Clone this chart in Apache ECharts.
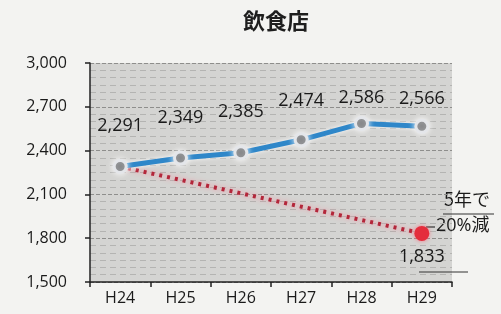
<!DOCTYPE html>
<html>
<head>
<meta charset="utf-8">
<script src="https://cdn.jsdelivr.net/npm/echarts@6/dist/echarts.min.js"></script>
<style>
  html, body { margin: 0; padding: 0; background: #f3f3f1; }
  #chart { width: 501px; height: 314px; }
</style>
</head>
<body>
<div id="chart"></div>
<script>
// data
const years = ['H24', 'H25', 'H26', 'H27', 'H28', 'H29'];
const shops = [2291, 2349, 2385, 2474, 2586, 2566];
const target = [2291, null, null, null, null, 1833]; // 5年で20%減
const yTicks = [1500, 1800, 2100, 2400, 2700, 3000];

const fmt = v => Number(v).toLocaleString('en-US');
const font = '"Open Sans", "Noto Sans CJK JP", sans-serif';
const jp = '"Noto Sans CJK JP", sans-serif';

const myChart = echarts.init(document.getElementById('chart'));

// labels sit well above the line, the last two are squeezed under the top
const labelGap = [24, 24, 24, 22, 9, 11];
const shopData = shops.map((v, i) => ({ value: v, label: { distance: labelGap[i] } }));

let option = {
    backgroundColor: '#f3f3f1',
    title: {
        text: '飲食店',
        left: 238,
        top: 5,
        textStyle: { fontSize: 22, fontWeight: 'bold', color: '#1e1e1e', fontFamily: jp }
    },
    grid: {
        left: 90, right: 49, top: 63, bottom: 32,
        show: true,
        backgroundColor: '#d4d4d2',
        borderWidth: 0
    },
    xAxis: {
        type: 'category',
        data: years,
        boundaryGap: true,
        axisLine: { lineStyle: { color: '#222', width: 1.5 } },
        axisTick: { show: true, length: 5, lineStyle: { color: '#222', width: 1.5 } },
        axisLabel: { color: '#1a1a1a', fontSize: 16, fontFamily: font, margin: 8 }
    },
    yAxis: {
        type: 'value',
        min: yTicks[0],
        max: yTicks[yTicks.length - 1],
        interval: 300,
        axisLine: { show: true, lineStyle: { color: '#222', width: 1.5 } },
        axisTick: { show: true, length: 5, lineStyle: { color: '#222', width: 1.5 } },
        axisLabel: { color: '#1a1a1a', fontSize: 16, fontFamily: font, margin: 23, formatter: fmt },
        splitLine: { show: true, lineStyle: { color: '#8e8e8c', type: 'dashed', width: 1 } },
        minorTick: { show: false, splitNumber: 6 },
        minorSplitLine: { show: true, lineStyle: { color: '#b4b4b2', type: [6, 4], width: 1 } }
    },
    series: [
        {
            name: '飲食店',
            type: 'line',
            data: shopData,
            symbol: 'circle',
            symbolSize: 12,
            z: 3,
            lineStyle: { color: '#2f87c9', width: 5, shadowColor: 'rgba(255,255,255,0.9)', shadowBlur: 4 },
            itemStyle: { color: '#55575b', borderColor: '#e4e6ea', borderWidth: 3, shadowColor: 'rgba(255,255,255,0.9)', shadowBlur: 6 },
            label: {
                show: true,
                position: 'top',
                color: '#1a1a1a',
                fontSize: 18,
                fontFamily: font,
                formatter: p => fmt(p.value)
            }
        },
        {
            name: '目標',
            type: 'line',
            data: target,
            connectNulls: true,
            symbol: 'none',
            z: 2,
            lineStyle: { color: '#b3263a', width: 4, type: [3, 5], shadowColor: 'rgba(255,120,140,0.9)', shadowBlur: 5 },
            markPoint: {
                symbol: 'circle',
                symbolSize: 15,
                itemStyle: { color: '#e42d3c', shadowColor: 'rgba(255,100,120,0.8)', shadowBlur: 4 },
                data: [{ coord: [years.length - 1, target[target.length - 1]], value: target[target.length - 1] }],
                label: {
                    show: true,
                    position: 'bottom',
                    distance: 7,
                    color: '#1a1a1a',
                    fontSize: 18,
                    fontFamily: font,
                    formatter: p => fmt(p.value)
                }
            }
        }
    ],
    graphic: [
        { type: 'text', left: 444, top: 190, style: { text: '5年で', font: '18px "Noto Sans CJK JP"', fill: '#1a1a1a' } },
        { type: 'line', shape: { x1: 443, y1: 214, x2: 494, y2: 214 }, style: { stroke: '#333', lineWidth: 1.2 } },
        { type: 'text', left: 436, top: 217, style: { text: '20%減', font: '18px "Open Sans", "Noto Sans CJK JP"', fill: '#1a1a1a' } },
        { type: 'line', shape: { x1: 426, y1: 227, x2: 435, y2: 227 }, style: { stroke: '#333', lineWidth: 1.2 } },
        { type: 'line', shape: { x1: 419, y1: 272, x2: 468, y2: 272 }, style: { stroke: '#333', lineWidth: 1.2 } }
    ]
};
myChart.setOption(option);
</script>
</body>
</html>
